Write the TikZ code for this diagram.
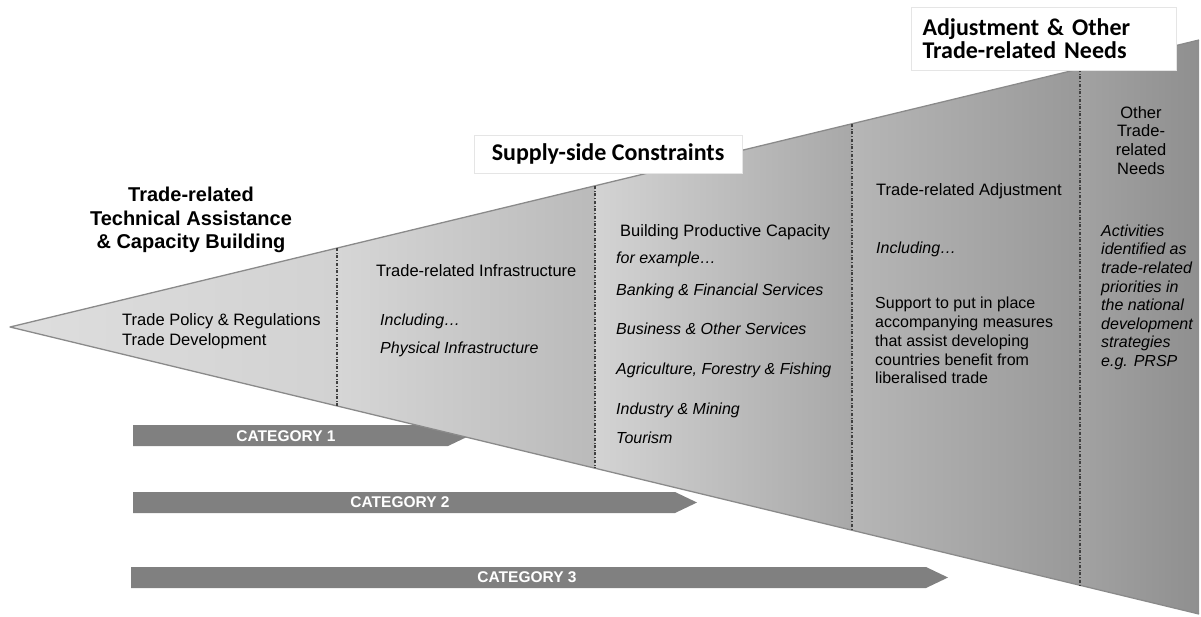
\documentclass[tikz,border=0pt]{standalone}
\usepackage{fontspec}
\setmainfont{Liberation Sans}
\newfontfamily\calibri{Carlito}
\usepackage{tikz}
\usetikzlibrary{calc}
\definecolor{gris_fleche}{HTML}{808080}
\definecolor{gris_bord}{HTML}{8A8A8A}
\definecolor{s1g}{HTML}{DEDEDE}\definecolor{s1d}{HTML}{D2D2D2}
\definecolor{s2g}{HTML}{D6D6D6}\definecolor{s2d}{HTML}{BABABA}
\definecolor{s3g}{HTML}{D3D3D3}\definecolor{s3d}{HTML}{A8A8A8}
\definecolor{s4g}{HTML}{B6B6B6}\definecolor{s4d}{HTML}{999999}
\definecolor{s5g}{HTML}{A2A2A2}\definecolor{s5d}{HTML}{8F8F8F}

\begin{document}
\begin{tikzpicture}[x=1pt,y=-1pt,
    texte/.style={inner sep=0pt,anchor=base west,font=\fontsize{16.5}{18.7}\selectfont},
    texteit/.style={texte,font=\fontsize{16}{18.7}\selectfont\itshape},
    bloc/.style={inner sep=0pt,anchor=north west,align=left},
    titre/.style={inner sep=0pt,anchor=north,align=center,font=\fontsize{20}{23.5}\selectfont\bfseries},
    etiquette/.style={fill=white,draw=black!10,line width=1pt,font=\calibri\fontsize{24}{23}\selectfont\bfseries},
    categorie/.style={inner sep=0pt,text=white,font=\fontsize{15.5}{16}\selectfont\bfseries},
    separation/.style={dash dot,line width=1.1pt,black!75}]

        \useasboundingbox (0,0) rectangle (1201,616);

        % Points de l'entonnoir
        \coordinate (S) at (10,327);
        \coordinate (H1) at (337,248);  \coordinate (B1) at (337,406);
        \coordinate (H2) at (595,186);  \coordinate (B2) at (595,468);
        \coordinate (H3) at (852,124);  \coordinate (B3) at (852,530);
        \coordinate (H4) at (1080,69);  \coordinate (B4) at (1080,585);
        \coordinate (H5) at (1199,40);  \coordinate (B5) at (1199,614);

        % Les fleches des categories (sous l'entonnoir)
        \fill[gris_fleche] (133,425) -- (448,425) -- (470,435.5) -- (448,446) -- (133,446) -- cycle;
        \fill[gris_fleche] (133,492) -- (675,492) -- (697,502.5) -- (675,513) -- (133,513) -- cycle;
        \fill[gris_fleche] (131,567) -- (926,567) -- (948,577.5) -- (926,588) -- (131,588) -- cycle;
        \node[categorie] (cat1) at (286,436) {CATEGORY 1};
        \node[categorie] (cat2) at (400,502.5) {CATEGORY 2};
        \node[categorie] (cat3) at (527,577.5) {CATEGORY 3};

        % Les cinq sections de l'entonnoir
        \shade[left color=s1g,right color=s1d] (S) -- (H1) -- (B1) -- cycle;
        \shade[left color=s2g,right color=s2d] (H1) -- (H2) -- (B2) -- (B1) -- cycle;
        \shade[left color=s3g,right color=s3d] (H2) -- (H3) -- (B3) -- (B2) -- cycle;
        \shade[left color=s4g,right color=s4d] (H3) -- (H4) -- (B4) -- (B3) -- cycle;
        \shade[left color=s5g,right color=s5d] (H4) -- (H5) -- (B5) -- (B4) -- cycle;
        \draw[gris_bord,line width=1.3pt,line join=round] (H5) -- (S) -- (B5);

        % Separations en tirets
        \draw[separation] (H1) -- (B1);
        \draw[separation] (H2) -- (B2);
        \draw[separation] (H3) -- (B3);
        \draw[separation] (H4) -- (B4);

        % Etiquettes du haut
        \node[etiquette,minimum width=268,minimum height=38] (offre) at (608,154) {Supply-side Constraints};
        \node[etiquette,anchor=north west,minimum width=265,minimum height=63,text width=243,align=left,inner xsep=11] (ajust) at (911,7) {Adjustment \& Other\\Trade-related Needs};

        % Section 1
        \node[titre] (trta) at (191,187) {Trade-related\\Technical Assistance\\\& Capacity Building};
        \node[bloc,font=\fontsize{16.5}{20}\selectfont] (politique) at (122,313) {Trade Policy \& Regulations\\Trade Development};

        % Section 2
        \node[texte] (infra) at (376,276) {Trade-related Infrastructure};
        \node[texteit] (incl1) at (380,325) {Including…};
        \node[texteit] (phys) at (380,353) {Physical Infrastructure};

        % Section 3
        \node[texte] (capacite) at (620,236) {Building Productive Capacity};
        \node[texteit] (exemple) at (616,263) {for example…};
        \node[texteit] (banque) at (616,295) {Banking \& Financial Services};
        \node[texteit] (services) at (616,334) {Business \& Other Services};
        \node[texteit] (agri) at (616,374) {Agriculture, Forestry \& Fishing};
        \node[texteit] (industrie) at (616,414) {Industry \& Mining};
        \node[texteit] (tourisme) at (616,443) {Tourism};

        % Section 4
        \node[texte] (adjust) at (876,195) {Trade-related Adjustment};
        \node[texteit] (incl2) at (876,253) {Including…};
        \node[bloc,font=\fontsize{16}{18.75}\selectfont] (soutien) at (875,297) {Support to put in place\\accompanying measures\\that assist developing\\countries benefit from\\liberalised trade};

        % Section 5
        \node[bloc,anchor=north,align=center,font=\fontsize{16.5}{18.7}\selectfont] (autres) at (1141,106) {Other\\Trade-\\related\\Needs};
        \node[bloc,font=\fontsize{16}{18.6}\selectfont\itshape] (activites) at (1101,224.5) {Activities\\identified as\\trade-related\\priorities in\\the national\\development\\strategies\\e.g. PRSP};
    \end{tikzpicture}
\end{document}
